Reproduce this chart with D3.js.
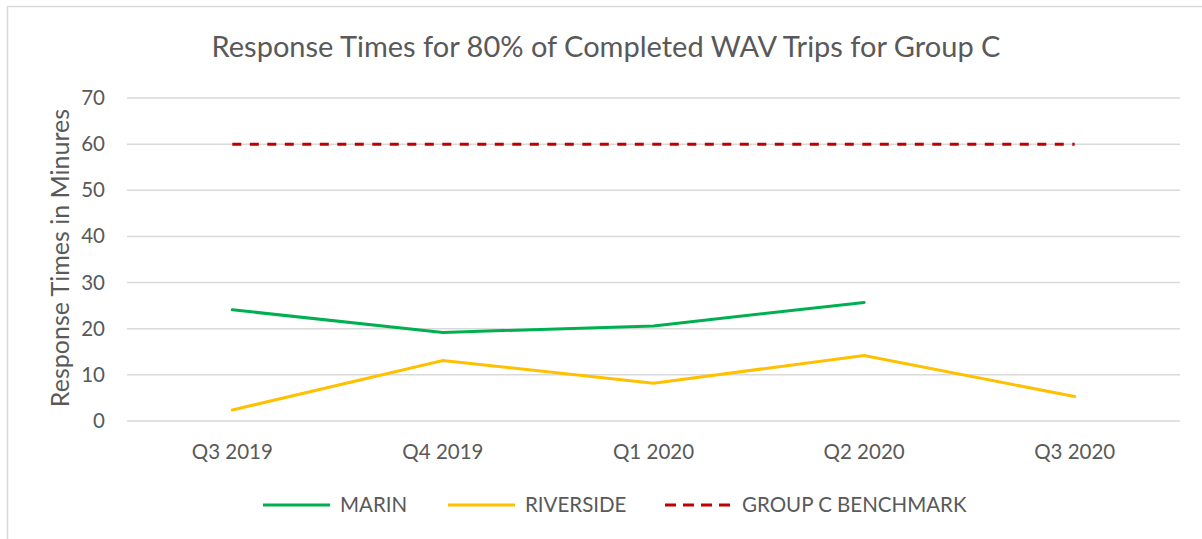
<!DOCTYPE html>
<html>
<head>
<meta charset="utf-8">
<script src="https://cdn.jsdelivr.net/npm/d3@7"></script>
<style>
  body { margin: 0; background: #fff; }
  text { font-family: Lato, "Open Sans", sans-serif; fill: #595959; }
</style>
</head>
<body>
<div id="chart"></div>
<script>
const quarters = ["Q3 2019", "Q4 2019", "Q1 2020", "Q2 2020", "Q3 2020"];
const marin = [24.1, 19.2, 20.6, 25.7, null];
const riverside = [2.4, 13.1, 8.2, 14.2, 5.3];
const benchmark = [60, 60, 60, 60, 60];
const yTicks = [0, 10, 20, 30, 40, 50, 60, 70];

const series = [
  { name: "MARIN", values: marin, color: "#00b050", dash: null },
  { name: "RIVERSIDE", values: riverside, color: "#ffc000", dash: null },
  { name: "GROUP C BENCHMARK", values: benchmark, color: "#c00000", dash: "9,8.5" }
];

const W = 1202, H = 539;
const plot = { left: 127, right: 1180, top: 98, bottom: 421 };

const svg = d3.select("#chart").append("svg")
    .attr("width", W)
    .attr("height", H);

// chart area border
svg.append("rect")
    .attr("x", 7.5).attr("y", 6.5)
    .attr("width", W).attr("height", H)
    .attr("fill", "none")
    .attr("stroke", "#d9d9d9")
    .attr("stroke-width", 1.5);

const x = d3.scaleBand().domain(quarters).range([plot.left, plot.right]);
const y = d3.scaleLinear().domain([0, 70]).range([plot.bottom, plot.top]);

// gridlines
svg.append("g")
    .selectAll("line")
    .data(yTicks)
    .enter()
    .append("line")
    .attr("x1", plot.left)
    .attr("x2", plot.right)
    .attr("y1", d => y(d))
    .attr("y2", d => y(d))
    .attr("stroke", "#d9d9d9")
    .attr("stroke-width", 1.5);

// y axis labels
const yAxis = d3.axisLeft(y).tickValues(yTicks).tickSize(0).tickPadding(22);
svg.append("g")
    .attr("transform", "translate(" + plot.left + ",0)")
    .call(yAxis)
    .call(g => g.select(".domain").remove())
    .selectAll("text")
    .style("font-size", "20.5px")
    .attr("fill", "#595959");

// x axis labels
const xAxis = d3.axisBottom(x).tickSize(0).tickPadding(23);
svg.append("g")
    .attr("transform", "translate(0," + plot.bottom + ")")
    .call(xAxis)
    .call(g => g.select(".domain").remove())
    .selectAll("text")
    .style("font-size", "20.5px")
    .attr("fill", "#595959");

// title
svg.append("text")
    .attr("x", 606)
    .attr("y", 57)
    .attr("text-anchor", "middle")
    .style("font-size", "29px")
    .text("Response Times for 80% of Completed WAV Trips for Group C");

// y axis title
svg.append("text")
    .attr("transform", "translate(69,258) rotate(-90)")
    .attr("text-anchor", "middle")
    .style("font-size", "25px")
    .text("Response Times in Minures");

const line = d3.line()
    .defined(d => d != null)
    .x((d, i) => x(quarters[i]) + x.bandwidth() / 2)
    .y(d => y(d));

svg.append("g")
    .selectAll("path")
    .data(series)
    .enter()
    .append("path")
    .attr("d", d => line(d.values))
    .attr("fill", "none")
    .attr("stroke", d => d.color)
    .attr("stroke-width", 3)
    .attr("stroke-linecap", d => d.dash ? "butt" : "round")
    .attr("stroke-dasharray", d => d.dash);

// legend
const legendX = [263, 448, 665];
const legend = svg.append("g")
    .selectAll("g")
    .data(series)
    .enter()
    .append("g")
    .attr("transform", (d, i) => "translate(" + legendX[i] + ",505)");

legend.append("line")
    .attr("x1", 0).attr("x2", 67)
    .attr("stroke", d => d.color)
    .attr("stroke-width", 3)
    .attr("stroke-dasharray", d => d.dash ? "11,7" : null);

legend.append("text")
    .attr("x", 77)
    .attr("dy", "0.35em")
    .style("font-size", "20.5px")
    .text(d => d.name);
</script>
</body>
</html>
